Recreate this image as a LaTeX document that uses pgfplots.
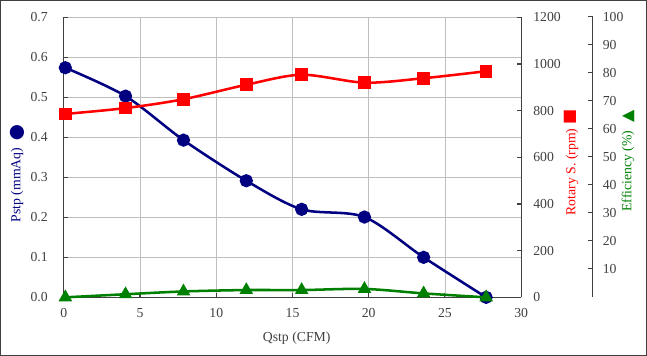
\documentclass[border=0pt]{standalone}
\usepackage{pgfplots}
\pgfplotsset{compat=1.18}
\usepackage{fontspec}
\setmainfont{Liberation Serif}
\newfontfamily\sym{DejaVu Sans}
\definecolor{cnavy}{RGB}{0,0,128}
\definecolor{cred}{RGB}{255,0,0}
\definecolor{cgreen}{RGB}{0,128,0}
\definecolor{cgrid}{RGB}{190,190,190}
\definecolor{caxis}{RGB}{64,64,64}
\definecolor{ctext}{RGB}{64,64,64}
\newcommand{\fs}{\fontsize{10.3}{12}\selectfont}
\pgfplotsset{
  base/.style={
    scale only axis, width=343.05pt, height=210pt,
    at={(47.85pt,44pt)}, anchor=south west,
    xmin=0, xmax=30, clip=false,
    tick label style={font=\fs, text=ctext},
    /pgf/number format/assume math mode=true,
    /pgf/number format/1000 sep={},
    axis line style={caxis, line width=0.8pt, -},
    tick style={caxis, line width=0.8pt},
    tick align=inside, major tick length=3pt,
  }
}
\begin{document}
\begin{tikzpicture}
\path[use as bounding box] (0,0) rectangle (485.25pt,267pt);
\draw[caxis, line width=0.75pt] (0.375pt,0.375pt) rectangle (484.875pt,266.625pt);
\begin{axis}[base,
  ymin=0, ymax=0.7,
  axis x line*=bottom, axis y line*=left,
  xtick={0,5,10,15,20,25,30}, ytick={0,0.1,0.2,0.3,0.4,0.5,0.6,0.7},
  grid=major, grid style={cgrid, line width=0.6pt},
  yticklabel style={/pgf/number format/fixed, /pgf/number format/fixed zerofill, /pgf/number format/precision=1, xshift=-8.5pt},
  xticklabel style={yshift=-4.5pt},
]
\addplot[cnavy, line width=1.9pt, smooth, tension=0.5, mark=*, mark size=4pt, mark options={solid}] coordinates {
 (0.1,0.574) (4.05,0.503) (7.85,0.393) (11.97,0.2915) (15.6,0.220) (19.72,0.2007) (23.6,0.100) (27.7,0.0)
};
\end{axis}
\begin{axis}[base,
  ymin=0, ymax=1200,
  axis x line=none, axis y line*=right,
  ytick={0,200,400,600,800,1000,1200},
  yticklabel style={anchor=west, xshift=5.6pt},
]
\addplot[cred, line width=1.9pt, smooth, tension=0.5, mark=square*, mark size=3.8pt, mark options={solid}] coordinates {
 (0.1,786) (4.05,811) (7.85,849) (11.97,911) (15.6,954) (19.72,920) (23.6,939) (27.7,969)
};
\end{axis}
\begin{axis}[base, ymin=0, ymax=100, hide axis]
\addplot[cgreen, line width=1.9pt, smooth, tension=0.5, mark=triangle*, mark size=4pt, mark options={solid}] coordinates {
 (0.1,0) (4.05,1.1) (7.85,2.1) (11.97,2.6) (15.6,2.6) (19.72,3.0) (23.6,1.4) (27.7,0)
};
\end{axis}
\begin{axis}[scale only axis, width=1pt, height=210pt,
  at={(444.5pt,44.5pt)}, anchor=south east,
  xmin=0, xmax=1, ymin=0, ymax=100,
  axis x line=none, axis y line=right,
  axis line style={caxis, line width=0.8pt, -},
  tick style={caxis, line width=0.8pt},
  tick align=inside, major tick length=3.75pt,
  ytick={10,20,30,40,50,60,70,80,90,100},
  tick label style={font=\fs, text=ctext},
  /pgf/number format/assume math mode=true,
  yticklabel style={anchor=west, xshift=4.1pt},
]
\end{axis}
\node[rotate=90, text=cnavy, font=\fs] at (12.75pt,128.25pt) {Pstp (mmAq)};
\node[text=cnavy, font=\sym\fontsize{14}{14}\selectfont, inner sep=0pt] at (12.75pt,167.25pt) {●};
\node[rotate=90, text=cred, font=\fs] at (429pt,138pt) {Rotary S. (rpm)};
\node[rotate=90, text=cred, font=\sym\fontsize{12}{12}\selectfont, inner sep=0pt] at (427.5pt,179pt) {■};
\node[rotate=90, text=cgreen, font=\fs] at (471pt,138.75pt) {Efficiency (\%)};
\node[rotate=90, text=cgreen, font=\sym\fontsize{12}{12}\selectfont, inner sep=0pt] at (471.2pt,179.5pt) {▲};
\node[text=ctext, font=\fs] at (222.5pt,13.5pt) {Qstp (CFM)};
\end{tikzpicture}
\end{document}
